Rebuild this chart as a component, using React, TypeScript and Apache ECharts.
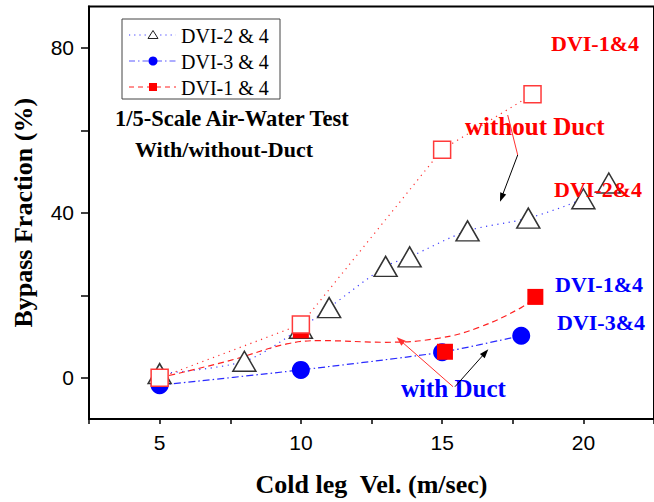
import React, { useEffect, useRef } from "react";
import * as echarts from "echarts";

// ---- data ----
// DVI-2 & 4 (without duct, open triangles)
const triX = [5, 8, 10, 11, 13, 13.85, 15.9, 18.05, 20, 20.9];
const triY = [1, 4, 12, 17, 27, 29.3, 35.6, 38.7, 43.4, 47.2];
// DVI-3 & 4 (with duct, filled circles)
const cirX = [5, 10, 15, 17.8];
const cirY = [-1.8, 1.9, 6.2, 10.2];
// DVI-1 & 4 with duct (filled squares)
const sqfX = [5, 10, 15.1, 18.3];
const sqfY = [0, 11.5, 6.3, 19.6];
// DVI-1 & 4 with duct, fitted dashed curve
const fitX = [5, 7.5, 9.5, 10.7, 13, 14.9, 16.3, 17.8, 18.3];
const fitY = [0, 4.2, 8.2, 9, 8.6, 9.6, 12.2, 17, 19.6];
// DVI-1 & 4 without duct (open squares)
const sqoX = [5, 10, 15, 18.2];
const sqoY = [0, 12.9, 55.3, 68.7];

const xTicks = [2.5, 5, 7.5, 10, 12.5, 15, 17.5, 20, 22.5];
const xLabels = [5, 10, 15, 20];
const yTicks = [0, 20, 40, 60, 80];
const yLabels = [0, 40, 80];

const SERIF = "'Liberation Serif', 'Times New Roman', serif";
const SANS = "'Liberation Sans', Arial, sans-serif";

const pairs = (xs: number[], ys: number[]) => xs.map((x, i) => [x, ys[i]]);

function arrow(x1: number, y1: number, x2: number, y2: number, color: string, head = true) {
  const dx = x2 - x1;
  const dy = y2 - y1;
  const len = Math.sqrt(dx * dx + dy * dy);
  const ux = dx / len;
  const uy = dy / len;
  const L = 9;
  const W = 3.2;
  const bx = x2 - ux * L;
  const by = y2 - uy * L;
  const els: any[] = [
    {
      type: "line",
      shape: { x1, y1, x2: head ? bx + ux * 2 : x2, y2: head ? by + uy * 2 : y2 },
      style: { stroke: color, lineWidth: 1 },
      z: 20,
    },
  ];
  if (head) {
    els.push({
      type: "polygon",
      shape: {
        points: [
          [x2, y2],
          [bx - uy * W, by + ux * W],
          [bx + uy * W, by - ux * W],
        ],
      },
      style: { fill: color },
      z: 20,
    });
  }
  return els;
}

function txt(text: string, x: number, y: number, color: string, size: number, bold = true) {
  return {
    type: "text",
    x,
    y,
    style: {
      text,
      fill: color,
      font: `${bold ? "bold " : ""}${size}px ${SERIF}`,
      textAlign: "left",
      textVerticalAlign: "middle",
    },
    z: 20,
  };
}

const legendRows = [
  { y: 35, label: "DVI-2 & 4" },
  { y: 61, label: "DVI-3 & 4" },
  { y: 87, label: "DVI-1 & 4" },
];

function legend() {
  const els: any[] = [
    {
      type: "rect",
      shape: { x: 122, y: 19, width: 158, height: 80 },
      style: { fill: "#fff", stroke: "#444", lineWidth: 1 },
      z: 15,
    },
  ];
  // row 1: dotted blue + open triangle
  els.push({
    type: "line",
    shape: { x1: 129, y1: legendRows[0].y, x2: 176, y2: legendRows[0].y },
    style: { stroke: "#3a3aff", lineWidth: 1, lineDash: [1.2, 4] },
    z: 16,
  });
  els.push({
    type: "polygon",
    shape: {
      points: [
        [153, legendRows[0].y - 4.5],
        [148, legendRows[0].y + 3.5],
        [158, legendRows[0].y + 3.5],
      ],
    },
    style: { fill: "#fff", stroke: "#222", lineWidth: 1 },
    z: 17,
  });
  // row 2: dash-dot blue + filled circle
  els.push({
    type: "line",
    shape: { x1: 129, y1: legendRows[1].y, x2: 176, y2: legendRows[1].y },
    style: { stroke: "#5a5aff", lineWidth: 1.2, lineDash: [6, 3, 1.5, 3] },
    z: 16,
  });
  els.push({
    type: "circle",
    shape: { cx: 153, cy: legendRows[1].y, r: 4.5 },
    style: { fill: "#0000ff" },
    z: 17,
  });
  // row 3: dashed red + filled square
  els.push({
    type: "line",
    shape: { x1: 129, y1: legendRows[2].y, x2: 176, y2: legendRows[2].y },
    style: { stroke: "#ff2020", lineWidth: 1, lineDash: [5, 4] },
    z: 16,
  });
  els.push({
    type: "rect",
    shape: { x: 149, y: legendRows[2].y - 4, width: 8, height: 8 },
    style: { fill: "#ff0000" },
    z: 17,
  });
  legendRows.forEach((r) => {
    els.push({
      type: "text",
      x: 181,
      y: r.y + 1,
      style: {
        text: r.label,
        fill: "#000",
        font: `20px ${SERIF}`,
        textAlign: "left",
        textVerticalAlign: "middle",
      },
      z: 17,
    });
  });
  return els;
}

export default function App() {
  const ref = useRef<HTMLDivElement>(null);
  useEffect(() => {
    document.body.style.margin = "0";
    const chart = echarts.init(ref.current!, null, { renderer: "svg" });
    const option: any = {
      animation: false,
      backgroundColor: "#fff",
      grid: {
        left: 89,
        top: 6.5,
        width: 567,
        height: 416,
        show: true,
        borderColor: "#000",
        borderWidth: 2,
      },
      xAxis: {
        type: "value",
        min: 2.5,
        max: 22.5,
        axisLine: { show: true, onZero: false, lineStyle: { color: "#000", width: 2 } },
        axisTick: {
          show: true,
          customValues: xTicks,
          length: 5,
          lineStyle: { color: "#000", width: 1.5 },
        },
        axisLabel: {
          customValues: xLabels,
          margin: 13,
          fontSize: 21,
          fontFamily: SANS,
          color: "#000",
        },
        splitLine: { show: false },
        name: "Cold leg  Vel. (m/sec)",
        nameLocation: "middle",
        nameGap: 52,
        nameTextStyle: { fontFamily: SERIF, fontWeight: "bold", fontSize: 26, color: "#000" },
      },
      yAxis: {
        type: "value",
        min: -10,
        max: 90,
        axisLine: { show: true, onZero: false, lineStyle: { color: "#000", width: 2 } },
        axisTick: {
          show: true,
          customValues: yTicks,
          length: 8,
          lineStyle: { color: "#000", width: 1.5 },
        },
        axisLabel: {
          customValues: yLabels,
          margin: 15,
          fontSize: 21,
          fontFamily: SANS,
          color: "#000",
        },
        splitLine: { show: false },
        name: "Bypass Fraction (%)",
        nameLocation: "middle",
        nameGap: 53,
        nameTextStyle: { fontFamily: SERIF, fontWeight: "bold", fontSize: 26, color: "#000" },
      },
      series: [
        {
          type: "line",
          name: "DVI-2 & 4 line",
          data: pairs(triX, triY),
          showSymbol: false,
          symbol: "none",
          smooth: 0.3,
          lineStyle: { color: "#3a3aff", width: 1.2, type: [1.2, 4.5] },
          z: 1,
          silent: true,
        },
        {
          type: "line",
          name: "DVI-3 & 4 line",
          data: pairs(cirX, cirY),
          showSymbol: false,
          symbol: "none",
          smooth: 0.2,
          lineStyle: { color: "#2a2aff", width: 1.2, type: [7, 3, 1.5, 3] },
          z: 1,
          silent: true,
        },
        {
          type: "line",
          name: "DVI-1 & 4 fit",
          data: pairs(fitX, fitY),
          showSymbol: false,
          symbol: "none",
          smooth: 0.4,
          lineStyle: { color: "#ff2020", width: 1.2, type: [6, 4] },
          z: 1,
          silent: true,
        },
        {
          type: "line",
          name: "DVI-1 & 4 without duct line",
          data: pairs(sqoX, sqoY),
          showSymbol: false,
          symbol: "none",
          lineStyle: { color: "#ff3030", width: 1.2, type: [1.2, 4.5] },
          z: 1,
          silent: true,
        },
        {
          type: "scatter",
          name: "DVI-3 & 4",
          data: pairs(cirX, cirY),
          symbol: "circle",
          symbolSize: 18,
          itemStyle: { color: "#0000ff", opacity: 1 },
          z: 2,
          silent: true,
        },
        {
          type: "scatter",
          name: "DVI-2 & 4",
          data: pairs(triX, triY),
          symbol: "triangle",
          symbolSize: [23, 20],
          itemStyle: { color: "#fff", borderColor: "#333", borderWidth: 1.5, opacity: 1 },
          z: 3,
          silent: true,
        },
        {
          type: "scatter",
          name: "DVI-1 & 4",
          data: pairs(sqfX, sqfY),
          symbol: "rect",
          symbolSize: 16,
          itemStyle: { color: "#ff0000", opacity: 1 },
          z: 4,
          silent: true,
        },
        {
          type: "scatter",
          name: "DVI-1 & 4 without duct",
          data: pairs(sqoX, sqoY),
          symbol: "rect",
          symbolSize: 17,
          itemStyle: { color: "#fff", borderColor: "#ff3a3a", borderWidth: 1.5, opacity: 1 },
          z: 5,
          silent: true,
        },
      ],
      graphic: [
        ...legend(),
        txt("1/5-Scale Air-Water Test", 115, 118, "#000", 22.5),
        txt("With/without-Duct", 135, 149, "#000", 22),
        txt("DVI-1&4", 551, 43.5, "#ff0000", 22),
        txt("without Duct", 465, 126.5, "#ff0000", 25),
        txt("DVI-2&4", 554, 189, "#ff0000", 22),
        txt("DVI-1&4", 555, 284, "#0000ff", 22),
        txt("DVI-3&4", 557, 322, "#0000ff", 22),
        txt("with Duct", 401, 388.5, "#0000ff", 25),
        ...arrow(507.7, 115, 517.7, 155, "#ff3030", false),
        ...arrow(517.7, 155, 500, 201.7, "#000"),
        ...arrow(453, 386.7, 396.7, 337.3, "#ff3030"),
        ...arrow(455, 386.7, 488.3, 349.3, "#000"),
      ],
    };
    chart.setOption(option);
    return () => chart.dispose();
  }, []);
  return <div ref={ref} style={{ width: 654, height: 502 }} />;
}
